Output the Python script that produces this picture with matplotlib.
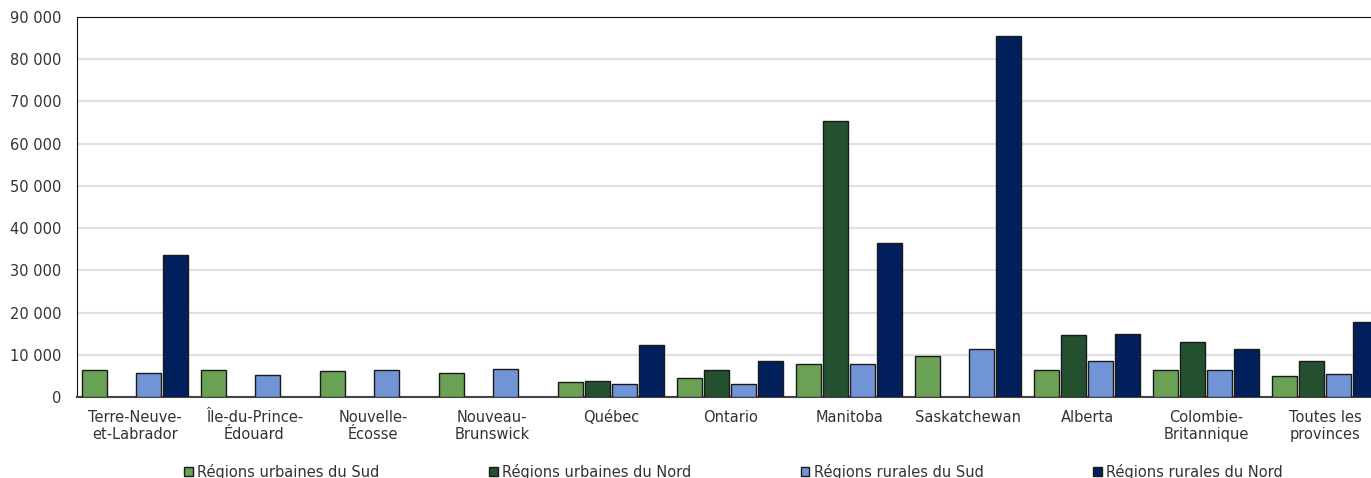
import numpy as np
import matplotlib.pyplot as plt
from matplotlib.ticker import FuncFormatter

provinces = ["Terre-Neuve-\net-Labrador", "Île-du-Prince-\nÉdouard", "Nouvelle-\nÉcosse",
             "Nouveau-\nBrunswick", "Québec", "Ontario", "Manitoba", "Saskatchewan",
             "Alberta", "Colombie-\nBritannique", "Toutes les\nprovinces"]
series_names = ["Régions urbaines du Sud", "Régions urbaines du Nord",
                "Régions rurales du Sud", "Régions rurales du Nord"]
urbain_sud = [6400, 6400, 6100, 5800, 3500, 4400, 7900, 9800, 6400, 6400, 5000]
urbain_nord = [np.nan, np.nan, np.nan, np.nan, 3800, 6400, 65400, np.nan, 14600, 13000, 8500]
rural_sud = [5800, 5100, 6400, 6600, 3150, 3150, 7900, 11400, 8500, 6400, 5400]
rural_nord = [33600, np.nan, np.nan, np.nan, 12300, 8500, 36500, 85600, 15000, 11400, 17800]
colors = ["#6aa155", "#235130", "#7094d6", "#001f5b"]

plt.rcParams['font.family'] = ['DejaVu Sans']
fig = plt.figure(figsize=(13.71, 4.78), dpi=100)
ax = fig.add_axes([77/1371, 81/478, 1309/1371, 380/478])

x = np.arange(len(provinces))
step = 0.227
width = 0.21
for k, vals in enumerate([urbain_sud, urbain_nord, rural_sud, rural_nord]):
    ax.bar(x + (k - 1.5) * step, vals, width, color=colors[k], edgecolor="#1a1a1a",
           linewidth=1, label=series_names[k], zorder=3)

ax.set_xlim(-0.49, 10.51)
ax.set_ylim(0, 90000)
ax.set_yticks(np.arange(0, 90001, 10000))
ax.yaxis.set_major_formatter(FuncFormatter(lambda v, p: f"{int(v):,}".replace(",", " ")))
ax.grid(axis="y", color="#e0e0e0", linewidth=1.5, zorder=0)
ax.set_xticks(x)
ax.set_xticklabels(provinces)
ax.tick_params(axis="y", length=0, pad=11, labelsize=10.5, labelcolor="#333333")
ax.tick_params(axis="x", length=0, pad=9, labelsize=10.5, labelcolor="#333333")
for s in ["left", "top"]:
    ax.spines[s].set_color("#111111")
ax.spines["bottom"].set_color("#444444")
ax.spines["bottom"].set_linewidth(1.5)
ax.spines["right"].set_visible(False)

fig.legend(loc="center", bbox_to_anchor=(0.535, 0.0135), ncol=4, frameon=False,
           fontsize=10.5, handlelength=0.6, handleheight=0.6, handletextpad=0.3,
           columnspacing=7.5, borderpad=0, labelcolor="#333333")

fig.savefig("out.png", dpi=100)
